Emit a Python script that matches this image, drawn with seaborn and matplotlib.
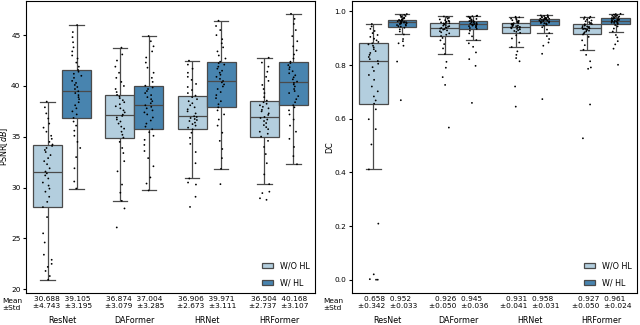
# PSNR and DC box plots (with strip points) for four backbones, with / without HL.

import numpy as np
import pandas as pd
import matplotlib
matplotlib.use("Agg")
import matplotlib.pyplot as plt
import seaborn as sns

models = ["ResNet", "DAFormer", "HRNet", "HRFormer"]
hues = ["W/O HL", "W/ HL"]

# per-case samples (sorted, 41 values each)
psnr_resnet_wo = [20.94, 21.3, 21.8, 22.2, 22.5, 22.9, 23.4, 24.6, 25.5, 27.1,
                  28.08, 28.6, 29.1, 29.6, 29.9, 30.2, 30.5, 30.9, 31.2, 31.4,
                  31.58, 31.9, 32.3, 32.6, 32.9, 33.2, 33.5, 33.7, 33.9, 34.1,
                  34.24, 34.5, 34.8, 35.1, 35.5, 35.9, 36.3, 36.8, 37.3, 37.9, 38.46]
psnr_resnet_w = [29.91, 30.6, 31.9, 33.0, 33.9, 34.5, 35.1, 35.6, 36.1, 36.5,
                 36.86, 37.2, 37.5, 37.8, 38.1, 38.4, 38.7, 38.9, 39.1, 39.3,
                 39.48, 39.7, 39.9, 40.1, 40.3, 40.5, 40.8, 41.0, 41.2, 41.4,
                 41.57, 41.9, 42.3, 42.7, 43.0, 43.4, 43.8, 44.3, 44.8, 45.3, 45.99]
psnr_daformer_wo = [26.08, 27.95, 28.70, 29.5, 30.3, 31.6, 32.6, 33.4, 33.9, 34.5,
                    34.92, 35.2, 35.5, 35.8, 36.0, 36.3, 36.5, 36.7, 36.9, 37.05,
                    37.18, 37.4, 37.6, 37.8, 38.0, 38.2, 38.4, 38.6, 38.8, 38.95,
                    39.12, 39.4, 39.7, 40.0, 40.4, 40.8, 41.3, 41.9, 42.5, 43.1, 43.77]
psnr_daformer_w = [29.72, 30.4, 31.0, 32.1, 32.9, 33.6, 34.2, 34.7, 35.1, 35.45,
                   35.74, 36.0, 36.3, 36.6, 36.9, 37.2, 37.4, 37.6, 37.8, 37.95,
                   38.10, 38.3, 38.5, 38.7, 38.9, 39.1, 39.3, 39.5, 39.7, 39.85,
                   40.03, 40.4, 40.8, 41.3, 41.8, 42.3, 42.8, 43.4, 43.9, 44.4, 44.91]
psnr_hrnet_wo = [28.1, 29.1, 30.3, 30.5, 30.90, 32.4, 33.5, 34.3, 34.9, 35.4,
                 35.74, 35.9, 36.1, 36.25, 36.4, 36.55, 36.65, 36.75, 36.85, 36.95,
                 37.02, 37.3, 37.5, 37.7, 37.9, 38.1, 38.3, 38.5, 38.7, 38.9,
                 39.05, 39.3, 39.6, 39.9, 40.2, 40.6, 40.9, 41.3, 41.7, 42.1, 42.49]
psnr_hrnet_w = [30.34, 31.85, 32.9, 33.8, 34.6, 35.4, 36.1, 36.7, 37.2, 37.6,
                37.90, 38.2, 38.5, 38.8, 39.1, 39.4, 39.7, 39.95, 40.15, 40.35,
                40.49, 40.7, 40.9, 41.1, 41.3, 41.5, 41.7, 41.9, 42.1, 42.25,
                42.39, 42.7, 43.0, 43.4, 43.8, 44.2, 44.6, 45.0, 45.5, 45.9, 46.42]
psnr_hrformer_wo = [28.8, 28.95, 29.46, 29.6, 30.34, 31.3, 32.4, 33.3, 34.0, 34.6,
                    35.02, 35.3, 35.5, 35.75, 35.95, 36.15, 36.35, 36.55, 36.7, 36.85,
                    36.95, 37.15, 37.3, 37.5, 37.65, 37.8, 37.95, 38.1, 38.25, 38.4,
                    38.56, 38.9, 39.3, 39.7, 40.1, 40.5, 40.9, 41.4, 41.9, 42.3, 42.78]
psnr_hrformer_w = [32.3, 33.1, 34.0, 34.8, 35.5, 36.1, 36.7, 37.2, 37.6, 37.9,
                   38.10, 38.4, 38.7, 39.0, 39.3, 39.5, 39.7, 39.95, 40.15, 40.3,
                   40.43, 40.65, 40.85, 41.05, 41.25, 41.45, 41.65, 41.85, 42.05, 42.25,
                   42.39, 42.7, 43.1, 43.5, 43.9, 44.4, 44.9, 45.5, 46.1, 46.6, 47.1]

dc_resnet_wo = [0.0, 0.0, 0.002, 0.02, 0.209, 0.411, 0.504, 0.561, 0.598, 0.635,
                0.656, 0.668, 0.683, 0.702, 0.72, 0.745, 0.763, 0.778, 0.792, 0.805,
                0.815, 0.822, 0.83, 0.838, 0.845, 0.852, 0.859, 0.866, 0.872, 0.877,
                0.881, 0.886, 0.892, 0.898, 0.905, 0.912, 0.919, 0.927, 0.935, 0.944, 0.953]
dc_resnet_w = [0.669, 0.813, 0.872, 0.881, 0.889, 0.897, 0.914, 0.925, 0.933, 0.939,
               0.943, 0.945, 0.947, 0.949, 0.951, 0.953, 0.954, 0.956, 0.957, 0.958,
               0.959, 0.960, 0.961, 0.962, 0.963, 0.964, 0.965, 0.966, 0.967, 0.968,
               0.969, 0.971, 0.973, 0.975, 0.977, 0.979, 0.981, 0.983, 0.985, 0.987, 0.99]
dc_daformer_wo = [0.567, 0.726, 0.755, 0.79, 0.812, 0.841, 0.862, 0.878, 0.892, 0.901,
                  0.908, 0.913, 0.918, 0.922, 0.926, 0.929, 0.932, 0.934, 0.936, 0.938,
                  0.939, 0.941, 0.943, 0.945, 0.947, 0.949, 0.951, 0.953, 0.955, 0.956,
                  0.957, 0.959, 0.961, 0.963, 0.965, 0.967, 0.970, 0.973, 0.976, 0.979, 0.981]
dc_daformer_w = [0.659, 0.797, 0.822, 0.847, 0.868, 0.881, 0.893, 0.907, 0.918, 0.928,
                 0.935, 0.938, 0.941, 0.943, 0.945, 0.947, 0.948, 0.950, 0.951, 0.952,
                 0.953, 0.954, 0.955, 0.957, 0.958, 0.960, 0.961, 0.962, 0.964, 0.965,
                 0.966, 0.968, 0.970, 0.972, 0.974, 0.976, 0.978, 0.980, 0.982, 0.983, 0.984]
dc_hrnet_wo = [0.645, 0.72, 0.814, 0.826, 0.838, 0.851, 0.867, 0.884, 0.899, 0.911,
               0.920, 0.924, 0.927, 0.930, 0.933, 0.935, 0.937, 0.939, 0.940, 0.941,
               0.942, 0.944, 0.945, 0.947, 0.948, 0.950, 0.951, 0.953, 0.954, 0.956,
               0.957, 0.959, 0.961, 0.963, 0.965, 0.967, 0.970, 0.973, 0.976, 0.978, 0.98]
dc_hrnet_w = [0.673, 0.842, 0.872, 0.884, 0.897, 0.908, 0.919, 0.932, 0.941, 0.947,
              0.951, 0.953, 0.955, 0.956, 0.957, 0.958, 0.959, 0.961, 0.962, 0.963,
              0.964, 0.965, 0.966, 0.967, 0.968, 0.969, 0.970, 0.971, 0.972, 0.9725,
              0.973, 0.974, 0.975, 0.976, 0.977, 0.978, 0.980, 0.981, 0.983, 0.985, 0.986]
dc_hrformer_wo = [0.527, 0.653, 0.786, 0.791, 0.814, 0.838, 0.857, 0.874, 0.892, 0.905,
                  0.914, 0.918, 0.922, 0.925, 0.928, 0.930, 0.932, 0.934, 0.935, 0.936,
                  0.937, 0.939, 0.941, 0.942, 0.944, 0.945, 0.947, 0.949, 0.950, 0.952,
                  0.953, 0.955, 0.957, 0.960, 0.963, 0.966, 0.969, 0.972, 0.975, 0.978, 0.98]
dc_hrformer_w = [0.801, 0.861, 0.877, 0.889, 0.903, 0.912, 0.925, 0.936, 0.944, 0.949,
                 0.953, 0.955, 0.957, 0.958, 0.959, 0.961, 0.962, 0.963, 0.964, 0.965,
                 0.966, 0.967, 0.968, 0.969, 0.970, 0.971, 0.972, 0.973, 0.974, 0.975,
                 0.976, 0.978, 0.979, 0.981, 0.982, 0.984, 0.985, 0.987, 0.988, 0.990, 0.991]

# mean / std printed under the boxes (W/O, W/ for each model)
psnr_mean = ["30.688", "39.105", "36.874", "37.004", "36.906", "39.971", "36.504", "40.168"]
psnr_std = ["4.743", "3.195", "3.079", "3.285", "2.673", "3.111", "2.737", "3.107"]
dc_mean = ["0.658", "0.952", "0.926", "0.945", "0.931", "0.958", "0.927", "0.961"]
dc_std = ["0.342", "0.033", "0.050", "0.036", "0.041", "0.031", "0.050", "0.024"]

psnr_lists = [psnr_resnet_wo, psnr_resnet_w, psnr_daformer_wo, psnr_daformer_w,
              psnr_hrnet_wo, psnr_hrnet_w, psnr_hrformer_wo, psnr_hrformer_w]
dc_lists = [dc_resnet_wo, dc_resnet_w, dc_daformer_wo, dc_daformer_w,
            dc_hrnet_wo, dc_hrnet_w, dc_hrformer_wo, dc_hrformer_w]


def to_long(lists):
    rows = []
    for k, vals in enumerate(lists):
        for v in vals:
            rows.append({"model": models[k // 2], "group": hues[k % 2], "value": v})
    return pd.DataFrame(rows)


np.random.seed(3)
fig = plt.figure(figsize=(6.4, 3.25), dpi=100)
ax1 = fig.add_axes([26 / 640, 1 - 293 / 325, 289 / 640, 292.5 / 325])
ax2 = fig.add_axes([352 / 640, 1 - 293 / 325, 285 / 640, 292.5 / 325])

panels = [(ax1, psnr_lists, psnr_mean, psnr_std, "PSNR[$dB$]", [20, 25, 30, 35, 40, 45]),
          (ax2, dc_lists, dc_mean, dc_std, "DC", [0.0, 0.2, 0.4, 0.6, 0.8, 1.0])]

for ax, lists, means, stds, ylab, yticks in panels:
    df = to_long(lists)
    sns.boxplot(data=df, x="model", y="value", hue="group", order=models, hue_order=hues,
                palette="Blues", linewidth=0.9, showfliers=False, ax=ax)
    sns.stripplot(data=df, x="model", y="value", hue="group", order=models, hue_order=hues,
                  dodge=True, jitter=0.14, size=1.3, palette=["black", "black"],
                  legend=False, ax=ax)
    labels = [f"{means[2*i]}  {means[2*i+1]}\n±{stds[2*i]}  ±{stds[2*i+1]}" for i in range(4)]
    ax.set_xticks(range(4))
    ax.set_xticklabels(labels, fontsize=5.3)
    for i, name in enumerate(models):
        ax.annotate(name, xy=(i, 0), xycoords=("data", "axes fraction"),
                    xytext=(0, -19.5), textcoords="offset points",
                    ha="center", va="center", fontsize=5.8)
    ax.set_yticks(yticks)
    ax.tick_params(axis="y", labelsize=5.3, length=2.5, pad=1.5)
    ax.tick_params(axis="x", length=0, pad=2)
    ax.set_xlabel("")
    ax.set_ylabel(ylab, fontsize=5.8, labelpad=0.5)
    ax.legend(loc="lower right", frameon=False, fontsize=5.8, handlelength=1.4,
              handleheight=0.7, labelspacing=1.0, borderaxespad=0.3)

fig.text(2 / 640, 1 - 304.5 / 325, "Mean\n±Std", ha="left", va="center", fontsize=5.3)
fig.text(323 / 640, 1 - 304.5 / 325, "Mean\n±Std", ha="left", va="center", fontsize=5.3)

fig.savefig("out.png", dpi=100)
